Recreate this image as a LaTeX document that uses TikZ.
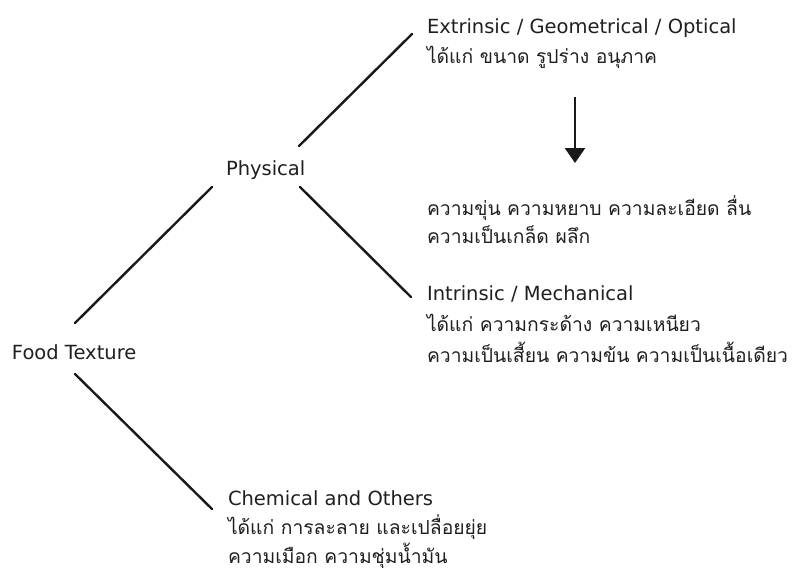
\documentclass[tikz,border=0pt]{standalone}
\usepackage{fontspec}
\setmainfont{DejaVu Sans}
\newfontfamily\thaifont[Script=Thai]{Loma}
\usetikzlibrary{arrows.meta,calc}
\tikzset{
  lbl/.style={anchor=base west,inner sep=0pt,outer sep=0pt,text=black!88,font=\fontsize{19.5}{23}\selectfont},
  thl/.style={lbl,font=\fontsize{19.3}{24}\selectfont\thaifont},
  branch/.style={line width=2.4pt,black!90,line cap=round},
  pointer/.style={line width=2.6pt,black!90,-{Triangle[width=20pt,length=15pt]}}
}
\begin{document}
\begin{tikzpicture}[x=1pt,y=-1pt]
\useasboundingbox (0,0) rectangle (792,574);
% nodes
\node[lbl] (ft) at (12,359) {Food Texture};
\node[lbl] (ph) at (226,175) {Physical};
\node[lbl] (ex) at (427,33) {Extrinsic / Geometrical / Optical};
\node[thl] (ex2) at ($(ex.base west)+(0,30)$) {ได้แก่ ขนาด รูปร่าง อนุภาค};
\node[thl] (md) at (427,215) {ความขุ่น ความหยาบ ความละเอียด ลื่น};
\node[thl] (md2) at ($(md.base west)+(0,28)$) {ความเป็นเกล็ด ผลึก};
\node[lbl] (in) at (427,300) {Intrinsic / Mechanical};
\node[thl] (in2) at ($(in.base west)+(0,31)$) {ได้แก่ ความกระด้าง ความเหนียว};
\node[thl] (in3) at ($(in2.base west)+(0,31)$) {ความเป็นเสี้ยน ความข้น ความเป็นเนื้อเดียว};
\node[lbl] (ch) at (228,505) {Chemical and Others};
\node[thl] (ch2) at ($(ch.base west)+(0,29)$) {ได้แก่ การละลาย และเปลื่อยยุ่ย};
\node[thl] (ch3) at ($(ch2.base west)+(0,29)$) {ความเมือก ความชุ่มน้ำมัน};
% connectors
\draw[branch] ($(ft.base west)+(63,-36)$) -- ($(ph.base west)+(-14,12)$);
\draw[branch] ($(ph.base west)+(73,-29)$) -- ($(ex.base west)+(-15,1)$);
\draw[branch] ($(ph.base west)+(74,12)$) -- ($(in.base west)+(-16,-3)$);
\draw[branch] ($(ft.base west)+(63,15)$) -- ($(ch.base west)+(-16,4)$);
\draw[pointer] ($(ex2.base west)+(148,34)$) -- ($(md.base west)+(148,-52)$);
\end{tikzpicture}
\end{document}
